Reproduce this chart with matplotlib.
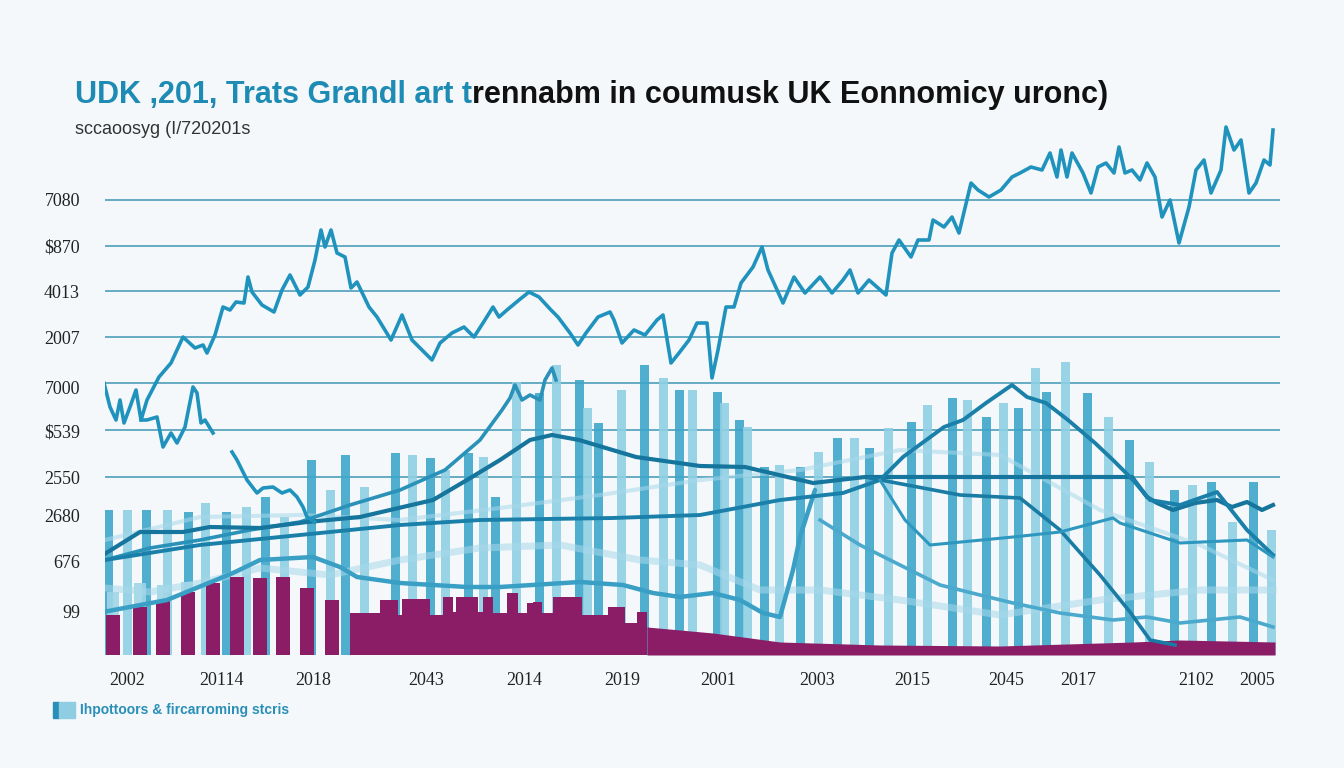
import matplotlib
matplotlib.use("Agg")
import matplotlib.pyplot as plt

W, H = 1344, 768
BG = "#f4f8fa"

# ---- data (x = period index, y = index level) ----
main_x = [104, 110, 116, 120, 124, 130, 136, 141, 147, 159, 171, 183, 195, 203, 207, 215, 223, 230, 236, 244,
          248, 252, 262, 274, 282, 290, 300, 308, 315, 321, 325, 331, 337, 345, 351, 357, 369, 377, 391, 402,
          412, 422, 432, 440, 452, 464, 474, 483, 493, 499, 507, 519, 529, 539, 551, 558, 570, 578, 586, 598,
          610, 614, 622, 634, 645, 657, 663, 671, 679, 689, 697, 707, 712, 718, 726, 734, 741, 753, 762, 768,
          783, 794, 805, 820, 832, 843, 850, 858, 869, 886, 892, 899, 911, 918, 929, 933, 944, 952, 959, 971,
          978, 989, 1001, 1012, 1020, 1031, 1042, 1050, 1057, 1061, 1067, 1072, 1083, 1091, 1098, 1106, 1114,
          1119, 1125, 1132, 1140, 1147, 1155, 1162, 1170, 1179, 1189, 1196, 1204, 1211, 1221, 1226, 1234, 1241,
          1249, 1256, 1264, 1270, 1273]
main_y = [272, 248, 235, 255, 232, 248, 265, 235, 255, 278, 292, 318, 307, 310, 302, 320, 348, 345, 353, 352,
          378, 363, 350, 343, 365, 380, 360, 368, 395, 425, 408, 425, 402, 398, 367, 373, 348, 338, 315, 340,
          315, 305, 295, 312, 322, 328, 318, 332, 348, 338, 345, 355, 363, 358, 345, 338, 322, 310, 322, 338,
          343, 335, 312, 325, 320, 335, 340, 292, 302, 315, 332, 332, 277, 305, 348, 348, 372, 388, 408, 385,
          352, 378, 362, 378, 362, 375, 385, 362, 375, 360, 402, 415, 398, 415, 415, 435, 428, 438, 422, 472,
          465, 458, 465, 478, 482, 488, 485, 502, 478, 505, 478, 502, 482, 462, 488, 492, 482,
          508, 482, 485, 475, 492, 478, 438, 455, 412, 448, 485, 495, 462, 485, 528, 505, 515,
          462, 472, 495, 490, 525]

branch_x = [141, 147, 157, 163, 171, 177, 185, 193, 197, 201, 205, 213]
branch_y = [235, 235, 238, 208, 222, 212, 228, 268, 262, 232, 235, 222]

dip_x = [232, 237, 247, 257, 263, 273, 282, 290, 297, 303, 307, 315]
dip_y = [203, 195, 175, 162, 167, 168, 162, 165, 158, 148, 138, 133]

rise_x = [105, 150, 200, 250, 300, 350, 400, 445, 480, 502, 510, 515, 522, 530, 540, 545, 552, 556]
rise_y = [95, 107, 115, 125, 133, 150, 165, 185, 215, 245, 257, 270, 255, 260, 255, 275, 287, 275]

flat_x = [103, 140, 183, 210, 260, 307, 360, 433, 467, 500, 530, 552, 579, 636, 700, 745, 813, 865, 1132,
          1147, 1157, 1173, 1195, 1217, 1232, 1247, 1262, 1273]
flat_y = [100, 123, 123, 128, 127, 133, 138, 155, 175, 195, 215, 220, 215, 198, 189, 188, 172, 178, 178,
          158, 152, 145, 152, 155, 148, 153, 145, 150]

hill_x = [105, 200, 300, 400, 480, 613, 700, 780, 843, 880, 903, 944, 963, 986, 1012, 1027, 1046, 1068,
          1095, 1113, 1133, 1150, 1180, 1217, 1247, 1273]
hill_y = [95, 110, 120, 130, 135, 137, 140, 155, 162, 175, 198, 228, 235, 252, 270, 258, 252, 235,
          212, 195, 175, 155, 150, 163, 125, 100]

crash_x = [870, 960, 1020, 1060, 1100, 1130, 1150, 1175]
crash_y = [177, 160, 157, 125, 80, 43, 15, 10]

steep_x = [880, 905, 930, 1013, 1060, 1113, 1120, 1180, 1247, 1273]
steep_y = [175, 135, 110, 118, 123, 137, 132, 112, 115, 98]

low_x = [103, 167, 233, 260, 313, 340, 357, 400, 467, 500, 580, 623, 653, 680, 713, 740, 763, 780, 793, 800,
         815]
low_y = [43, 55, 82, 95, 98, 88, 78, 72, 68, 68, 73, 70, 62, 58, 62, 55, 42, 38, 85, 118, 165]

tail_x = [820, 860, 900, 940, 980, 1013, 1060, 1113, 1147, 1180, 1240, 1273]
tail_y = [135, 110, 90, 70, 60, 52, 42, 35, 38, 32, 38, 28]

ghost1_x = [105, 150, 200, 260, 330, 400, 480, 560, 640, 700, 760, 820, 900, 1000, 1100, 1200, 1273]
ghost1_y = [67, 63, 72, 87, 80, 95, 107, 110, 95, 90, 65, 65, 55, 40, 55, 65, 65]
ghost2_x = [105, 200, 300, 400, 500, 600, 700, 800, 900, 1000, 1100, 1200, 1273]
ghost2_y = [115, 138, 140, 135, 147, 160, 175, 185, 205, 200, 145, 110, 75]

bar_x = [108, 127, 146, 167, 188, 205, 226, 246, 265, 284, 311, 330, 345, 364, 395, 412, 430, 445, 468, 483,
         495, 516, 539, 556, 579, 587, 598, 621, 644, 663, 679, 692, 717, 724, 739, 747, 764, 779, 800, 818,
         837, 854, 869, 888, 911, 927, 952, 967, 986, 1003, 1018, 1035, 1046, 1065, 1087, 1108, 1129, 1149,
         1174, 1192, 1211, 1232, 1253, 1271]
bar_h = [145, 145, 145, 145, 143, 152, 143, 148, 158, 138, 195, 165, 200, 168, 202, 200, 197, 185, 202, 198,
         158, 273, 262, 290, 275, 247, 232, 265, 290, 277, 265, 265, 263, 252, 235, 228, 188, 190, 188, 203,
         217, 217, 207, 227, 233, 250, 257, 255, 238, 252, 247, 287, 263, 293, 262, 238, 215, 193,
         165, 170, 173, 133, 173, 125]

short_x = [113, 140, 163, 187]
short_h = [63, 72, 70, 73]

plum_x = [113, 140, 163, 188, 213, 237, 260, 283, 307, 332]
plum_h = [40, 48, 55, 63, 72, 78, 77, 78, 67, 55]

step_x = [350, 380, 398, 402, 430, 443, 453, 456, 478, 483, 493, 507, 518, 527, 533, 542, 553, 582, 608,
          625, 637, 647]
step_h = [42, 55, 40, 56, 40, 58, 43, 58, 43, 58, 42, 62, 42, 52, 53, 42, 58, 40, 48, 32, 43, 28]

slope_x = [647, 713, 780, 880, 1000, 1133, 1180, 1275]
slope_h = [28, 22, 13, 10, 9, 13, 15, 13]

grid_levels = [455, 409, 364, 318, 272, 225, 178]
ytick_pos = [455, 409, 364, 318, 267, 224, 177, 139, 93, 43]
ytick_labels = ["7080", "$870", "4013", "2007", "7000", "$539", "2550", "2680", "676", "99"]
xtick_pos = [127, 222, 313, 426, 524, 622, 718, 817, 912, 1006, 1078, 1196, 1257]
xtick_labels = ["2002", "20114", "2018", "2043", "2014", "2019", "2001", "2003", "2015", "2045", "2017",
                "2102", "2005"]

title_a = "UDK ,201, Trats Grandl art t"
title_b = "rennabm in coumusk UK Eonnomicy uronc)"
subtitle = "sccaoosyg (I/720201s"
legend_label = "Ihpottoors & fircarroming stcris"

# ---- figure ----
fig = plt.figure(figsize=(W / 100, H / 100), dpi=100, facecolor=BG)
ax = fig.add_axes([105 / W, 113 / H, 1175 / W, 535 / H], facecolor=BG)
ax.set_xlim(105, 1280)
ax.set_ylim(0, 535)
for s in ax.spines.values():
    s.set_visible(False)

for g in grid_levels:
    ax.axhline(g, color="#5aa5bf", lw=1.3, zorder=1)

# teal bars, alternating shades
bar_cols = ["#3ea6ca" if i % 2 == 0 else "#8fcfe4" for i in range(len(bar_x))]
ax.bar(bar_x, bar_h, width=9, color=bar_cols, alpha=0.9, zorder=2)
ax.bar(short_x, short_h, width=12, color="#9fd6e8", alpha=0.9, zorder=2)

# ghost lines
ax.plot(ghost1_x, ghost1_y, color="#a9d9ea", lw=5, alpha=0.55, zorder=3)
ax.plot(ghost2_x, ghost2_y, color="#a9d9ea", lw=3, alpha=0.55, zorder=3)

# plum columns and stepped area
plum = "#8a1d66"
ax.bar(plum_x, plum_h, width=14, color=plum, zorder=4)
ax.fill_between(step_x, step_h, step="post", color=plum, lw=0, zorder=4)
ax.fill_between(slope_x, slope_h, color=plum, lw=0, zorder=4)

# lines
ax.plot(low_x, low_y, color="#3a9fc5", lw=3.2, zorder=5, solid_capstyle="round")
ax.plot(tail_x, tail_y, color="#4aa9cd", lw=2.6, zorder=5)
ax.plot(rise_x, rise_y, color="#2a91b9", lw=2.6, zorder=5)
ax.plot(flat_x, flat_y, color="#16759c", lw=3, zorder=6)
ax.plot(hill_x, hill_y, color="#1a80a9", lw=2.8, zorder=6)
ax.plot(crash_x, crash_y, color="#1a7ca5", lw=2.6, zorder=6)
ax.plot(steep_x, steep_y, color="#2e97bf", lw=2.2, zorder=6)
ax.plot(dip_x, dip_y, color="#1f93bd", lw=2.6, zorder=6)
ax.plot(branch_x, branch_y, color="#1f93bd", lw=2.6, zorder=7)
ax.plot(main_x, main_y, color="#1f93bd", lw=2.6, zorder=7)

ax.set_yticks(ytick_pos)
ax.set_yticklabels(ytick_labels, fontfamily="Liberation Serif", fontsize=13, color="#222222")
ax.set_xticks(xtick_pos)
ax.set_xticklabels(xtick_labels, fontfamily="Liberation Serif", fontsize=13, color="#222222")
ax.tick_params(axis="y", length=0, pad=18)
ax.tick_params(axis="x", length=0, pad=12)

# title in two colours
fig.canvas.draw()
r = fig.canvas.get_renderer()
t1 = fig.text(75 / W, 1 - 95 / H, title_a, fontfamily="Liberation Sans", fontweight="bold",
              fontsize=22, color="#1d8bb3", va="center", ha="left")
bb = t1.get_window_extent(r)
fig.text(bb.x1 / W, 1 - 95 / H, title_b, fontfamily="Liberation Sans", fontweight="bold",
         fontsize=22, color="#111111", va="center", ha="left")
fig.text(75 / W, 1 - 130 / H, subtitle, fontfamily="Liberation Sans", fontsize=13, color="#333333",
         va="center", ha="left")

# legend swatch
fig.patches.append(plt.Rectangle((53 / W, 1 - 718 / H), 6 / W, 16 / H, transform=fig.transFigure,
                                 color="#2a8fb8"))
fig.patches.append(plt.Rectangle((59 / W, 1 - 718 / H), 16 / W, 16 / H, transform=fig.transFigure,
                                 color="#8fcde3"))
fig.text(80 / W, 1 - 710 / H, legend_label, fontfamily="Liberation Sans", fontweight="bold", fontsize=10,
         color="#2a8fb8", va="center", ha="left")

fig.savefig("out.png", dpi=100, facecolor=BG)
